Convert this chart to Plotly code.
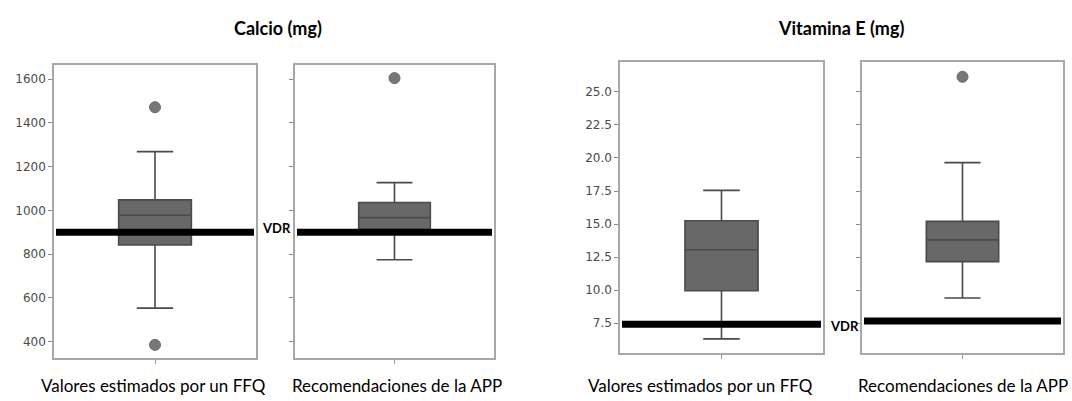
import plotly.graph_objects as go

W, H = 1072, 401

# ---------------- data ----------------
titles = ["Calcio (mg)", "Vitamina E (mg)"]
groups = ["Valores estimados por un FFQ", "Recomendaciones de la APP"]

ca_q1 = [842, 913]
ca_med = [978, 967]
ca_q3 = [1048, 1036]
ca_lo = [553, 774]
ca_hi = [1269, 1127]
ca_out = [[1472, 385], [1605]]
ca_vdr = [900, 900]

ve_q1 = [9.95, 12.15]
ve_med = [13.05, 13.8]
ve_q3 = [15.25, 15.2]
ve_lo = [6.3, 9.4]
ve_hi = [17.55, 19.65]
ve_out = [[], [26.15]]
ve_vdr = [7.4, 7.65]

ca_ticks = [400, 600, 800, 1000, 1200, 1400, 1600]
ve_ticks = [7.5, 10.0, 12.5, 15.0, 17.5, 20.0, 22.5, 25.0]

# ---------------- layout geometry (pixels) ----------------
panels = [(54, 256, 65, 358), (295, 494, 65, 358),
          (620, 823, 62, 353), (862, 1063, 62, 353)]
yranges = [[325, 1665], [325, 1665], [5.23, 27.27], [5.23, 27.27]]

BOX_FILL = "#686868"
BOX_LINE = "#4a4a4a"
FRAME = "#a8a8a8"

fig = go.Figure()

stats = []
for i in range(2):
    stats.append((ca_q1[i], ca_med[i], ca_q3[i], ca_lo[i], ca_hi[i], ca_out[i], ca_vdr[i]))
for i in range(2):
    stats.append((ve_q1[i], ve_med[i], ve_q3[i], ve_lo[i], ve_hi[i], ve_out[i], ve_vdr[i]))

for k, (q1, med, q3, lo, hi, out, vdr) in enumerate(stats):
    ax = "" if k == 0 else str(k + 1)
    fig.add_trace(go.Box(
        x=[0], q1=[q1], median=[med], q3=[q3], lowerfence=[lo], upperfence=[hi],
        boxpoints=False, width=0.72, whiskerwidth=0.5,
        fillcolor=BOX_FILL, line=dict(color=BOX_LINE, width=1.6),
        xaxis="x" + ax, yaxis="y" + ax, showlegend=False, hoverinfo="skip"))
    if out:
        fig.add_trace(go.Scatter(
            x=[0] * len(out), y=out, mode="markers",
            marker=dict(size=11, color="#777777", line=dict(color="#6a6a6a", width=1)),
            xaxis="x" + ax, yaxis="y" + ax, showlegend=False, hoverinfo="skip"))
    fig.add_shape(type="line", xref=("x" + ax + " domain"), yref="y" + ax,
                  x0=0.01, x1=0.99, y0=vdr, y1=vdr,
                  line=dict(color="black", width=7), layer="above")

layout = dict(width=W, height=H, margin=dict(l=0, r=0, t=0, b=0),
              paper_bgcolor="white", plot_bgcolor="white", showlegend=False)

for k, (x0, x1, y0, y1) in enumerate(panels):
    ax = "" if k == 0 else str(k + 1)
    xd = [x0 / W, x1 / W]
    yd = [1 - y1 / H, 1 - y0 / H]
    show_labels = k in (0, 2)
    ticks = ca_ticks if k < 2 else ve_ticks
    layout["xaxis" + ax] = dict(domain=xd, range=[-1, 1], anchor="y" + ax,
                                showgrid=False, zeroline=False, showline=True,
                                mirror=True, linecolor=FRAME, linewidth=1.5,
                                tickvals=[0], ticktext=[""], ticks="outside",
                                ticklen=4, tickcolor="#999999", fixedrange=True)
    layout["yaxis" + ax] = dict(domain=yd, range=yranges[k], anchor="x" + ax,
                                showgrid=False, zeroline=False, showline=True,
                                mirror=True, linecolor=FRAME, linewidth=1.5,
                                tickvals=ticks,
                                ticktext=[(str(t) if k < 2 else f"{t:.1f}") if show_labels else ""
                                          for t in ticks],
                                ticks="outside", ticklen=4, tickcolor="#888888",
                                tickfont=dict(family="DejaVu Sans", size=12, color="#4a4a4a"),
                                fixedrange=True)

ann = []
title_x = [278, 841]
for i, t in enumerate(titles):
    ann.append(dict(text="<b>" + t + "</b>", x=title_x[i] / W, y=1 - 28 / H,
                    xref="paper", yref="paper", showarrow=False,
                    font=dict(family="Lato", size=18, color="black"),
                    xanchor="center", yanchor="middle"))
label_x = [153, 397, 700, 963]
for k in range(4):
    ann.append(dict(text=groups[k % 2], x=label_x[k] / W, y=1 - 385 / H,
                    xref="paper", yref="paper", showarrow=False,
                    font=dict(family="Lato", size=17, color="black"),
                    xanchor="center", yanchor="middle"))
vdr_pos = [(276, 228), (844, 326)]
for (px, py) in vdr_pos:
    ann.append(dict(text="<b>VDR</b>", x=px / W, y=1 - py / H,
                    xref="paper", yref="paper", showarrow=False,
                    font=dict(family="Lato", size=13, color="black"),
                    xanchor="center", yanchor="middle"))
layout["annotations"] = ann

fig.update_layout(**layout)
fig.write_html("out.html")
